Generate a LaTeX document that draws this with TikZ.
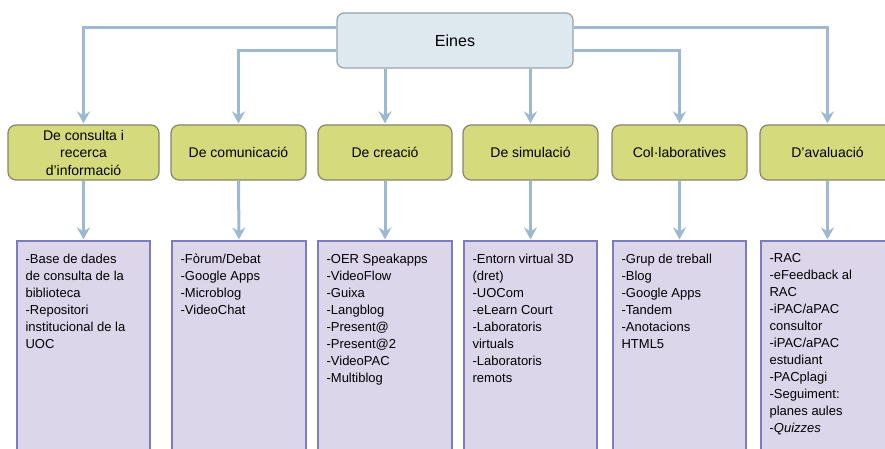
\documentclass[tikz,border=0pt]{standalone}
\usepackage{fontspec}
\setmainfont{Liberation Sans}
\usetikzlibrary{arrows.meta}
\definecolor{connc}{HTML}{9DB9D2}
\definecolor{rootfill}{HTML}{DEE9EF}
\definecolor{rootdraw}{HTML}{98A2AA}
\definecolor{catfill}{HTML}{D5DB7C}
\definecolor{catdraw}{HTML}{85866A}
\definecolor{listfill}{HTML}{DCD6EB}
\definecolor{listdraw}{HTML}{7D7DBE}
\begin{document}
\begin{tikzpicture}[x=1pt,y=-1pt,
  rootbox/.style={draw=rootdraw,fill=rootfill,line width=1.2pt,rounded corners=7pt,minimum width=236pt,minimum height=55pt,font=\fontsize{16}{19}\selectfont},
  catbox/.style={draw=catdraw,fill=catfill,line width=1.2pt,rounded corners=8pt,minimum width=135pt,minimum height=55pt,align=center,inner sep=1pt,font=\fontsize{14}{17.5}\selectfont},
  listbox/.style={draw=listdraw,fill=listfill,line width=1.2pt,minimum width=133pt,minimum height=240pt,inner sep=0pt},
  listtext/.style={anchor=north west,align=left,inner sep=0pt,font=\fontsize{13}{17}\selectfont},
  conn/.style={draw=connc,line width=3pt,-{Stealth[length=12pt,width=13pt,inset=4pt]},shorten >=1pt}
]
\useasboundingbox (0,0) rectangle (885,449);
\clip (0,0) rectangle (885,449);

\node[rootbox] (eines) at (455,40.5) {Eines};

\node[catbox,minimum width=151pt] (g1) at (83.5,152.5) {De consulta i\\recerca\\d’informació};
\node[catbox] (g2) at (238.5,152.5) {De comunicació};
\node[catbox,minimum width=134pt] (g3) at (385,152.5) {De creació};
\node[catbox] (g4) at (530.5,152.5) {De simulació};
\node[catbox] (g5) at (679.5,152.5) {Col·laboratives};
\node[catbox] (g6) at (827.5,152.5) {D’avaluació};

\node[listbox] (p1) at (83.5,361) {};
\node[listbox,minimum width=134pt] (p2) at (239,361) {};
\node[listbox,minimum width=134pt] (p3) at (385,361) {};
\node[listbox] (p4) at (530.5,361) {};
\node[listbox] (p5) at (679.5,361) {};
\node[listbox] (p6) at (827.5,361) {};

\node[listtext] (t1) at ([xshift=9pt,yshift=-13pt]p1.north west) {-Base de dades\\de consulta de la\\biblioteca\\-Repositori\\institucional de la\\UOC};
\node[listtext] (t2) at ([xshift=9pt,yshift=-13pt]p2.north west) {-Fòrum/Debat\\-Google Apps\\-Microblog\\-VideoChat};
\node[listtext] (t3) at ([xshift=9pt,yshift=-13pt]p3.north west) {-OER Speakapps\\-VideoFlow\\-Guixa\\-Langblog\\-Present@\\-Present@2\\-VideoPAC\\-Multiblog};
\node[listtext] (t4) at ([xshift=9pt,yshift=-13pt]p4.north west) {-Entorn virtual 3D\\(dret)\\-UOCom\\-eLearn Court\\-Laboratoris\\virtuals\\-Laboratoris\\remots};
\node[listtext] (t5) at ([xshift=9pt,yshift=-13pt]p5.north west) {-Grup de treball\\-Blog\\-Google Apps\\-Tandem\\-Anotacions\\HTML5};
\node[listtext] (t6) at ([xshift=9pt,yshift=-13pt]p6.north west) {-RAC\\-eFeedback al\\RAC\\-iPAC/aPAC\\consultor\\-iPAC/aPAC\\estudiant\\-PACplagi\\-Seguiment:\\planes aules\\-\textit{Quizzes}};

\draw[conn] ([yshift=12.5pt]eines.west) -| (g1.north);
\draw[conn] ([yshift=-10.5pt]eines.west) -| (g2.north);
\draw[conn] (eines.south -| g3.north) -- (g3.north);
\draw[conn] (eines.south -| g4.north) -- (g4.north);
\draw[conn] ([yshift=-10.5pt]eines.east) -| (g5.north);
\draw[conn] ([yshift=12.5pt]eines.east) -| (g6.north);

\draw[conn] (g1.south) -- (p1.north);
\draw[conn] (g2.south) -- (p2.north);
\draw[conn] (g3.south) -- (p3.north);
\draw[conn] (g4.south) -- (p4.north);
\draw[conn] (g5.south) -- (p5.north);
\draw[conn] (g6.south) -- (p6.north);
\end{tikzpicture}
\end{document}
